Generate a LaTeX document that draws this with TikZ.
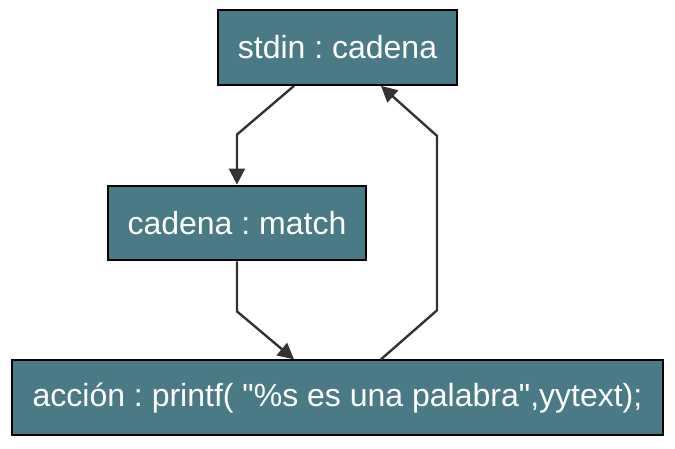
\documentclass[tikz,border=0pt]{standalone}
\usepackage{fontspec}
\setmainfont{Liberation Sans}
\usetikzlibrary{arrows.meta, positioning}
\definecolor{boxfill}{HTML}{4A7A85}
\definecolor{edgegray}{HTML}{333333}
\frenchspacing

\begin{document}
\begin{tikzpicture}[>={Triangle[length=12pt,width=12pt]},
  state/.style={rectangle,draw=black,line width=1.6pt,fill=boxfill,text=white,
    font=\fontsize{24}{28}\selectfont,inner sep=0pt,minimum height=56pt},
  edge/.style={->,draw=edgegray,line width=1.8pt}]
			% Nodes
			\node[state,minimum width=179pt] (stdin) at (0,0) {stdin : cadena};
			\node[state,minimum width=193.5pt] (match) [below=74pt of stdin, xshift=-75.4pt] {cadena : match};
			\node[state,minimum width=488pt] (accion) [below=73.5pt of match, xshift=75.4pt] {acción : printf( \textquotedbl\%s es una palabra\textquotedbl,yytext);};
			\useasboundingbox (-253.1pt,35.6pt) rectangle (253.1pt,-300.4pt);
			% Edges
			\draw[edge] ([xshift=-32.6pt]stdin.south) -- ([yshift=37.5pt]match.north) -- (match.north);
			\draw[edge] (match.south) -- ([yshift=-37.5pt]match.south) -- ([xshift=-32.6pt]accion.north);
			\draw[edge] ([xshift=32.6pt]accion.north) -- ([xshift=74.6pt,yshift=36.75pt]accion.north)
			  -- ([xshift=74.6pt,yshift=-37.5pt]stdin.south) -- ([xshift=32.6pt]stdin.south);
\end{tikzpicture}
\end{document}
